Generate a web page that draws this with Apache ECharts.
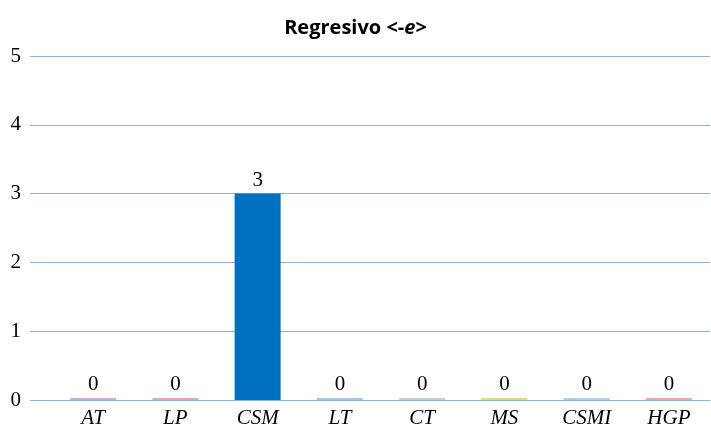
<!DOCTYPE html>
<html><head><meta charset="utf-8">
<script src="https://cdn.jsdelivr.net/npm/echarts@6/dist/echarts.min.js"></script>
<style>html,body{margin:0;padding:0;background:#fff}#c{width:711px;height:429px}</style>
</head><body><div id="c"></div>
<script>
const categories = ['AT','LP','CSM','LT','CT','MS','CSMI','HGP'];
const values = [0,0,3,0,0,0,0,0];
const barColors = ['#dba6cf','#f2a3a8','#0070c0','#a9c4e4','#c5d3b8','#ead38a','#b3cde6','#f3a995'];
const yTicks = [0,1,2,3,4,5];

const chart = echarts.init(document.getElementById('c'));
chart.setOption({
  animation:false,
  title:{
    text:'Regresivo <-{i|e}>',
    left:'center', top:13,
    textStyle:{
      fontFamily:'Open Sans',fontWeight:'bold',fontSize:20,color:'#000',
      rich:{
        i:{fontFamily:'Open Sans',fontWeight:'bold',fontStyle:'italic',fontSize:20,color:'#000'}
      }
    }
  },
  grid:{left:52,right:1,top:56,bottom:28},
  xAxis:{
    type:'category', data:categories,
    axisLine:{show:true,lineStyle:{color:'#8db3d9',width:1}},
    axisTick:{show:false},
    axisLabel:{fontFamily:'Liberation Serif',fontStyle:'italic',fontSize:21,color:'#000',margin:8}
  },
  yAxis:{
    type:'value', min:yTicks[0], max:yTicks[yTicks.length-1], interval:1,
    axisLine:{show:false},
    axisTick:{show:true,length:22,lineStyle:{color:'#8db3d9'}},
    splitLine:{lineStyle:{color:'#8db3d9',width:1}},
    axisLabel:{fontFamily:'Liberation Serif',fontSize:21,color:'#000',margin:31}
  },
  series:[{
    type:'bar', barWidth:46, barMinHeight:2,
    data: values.map((v,i)=>({value:v,itemStyle:{color:barColors[i]}})),
    label:{show:true,position:'top',distance:3,fontFamily:'Liberation Serif',fontSize:21,color:'#000'}
  }]
});
</script></body></html>
